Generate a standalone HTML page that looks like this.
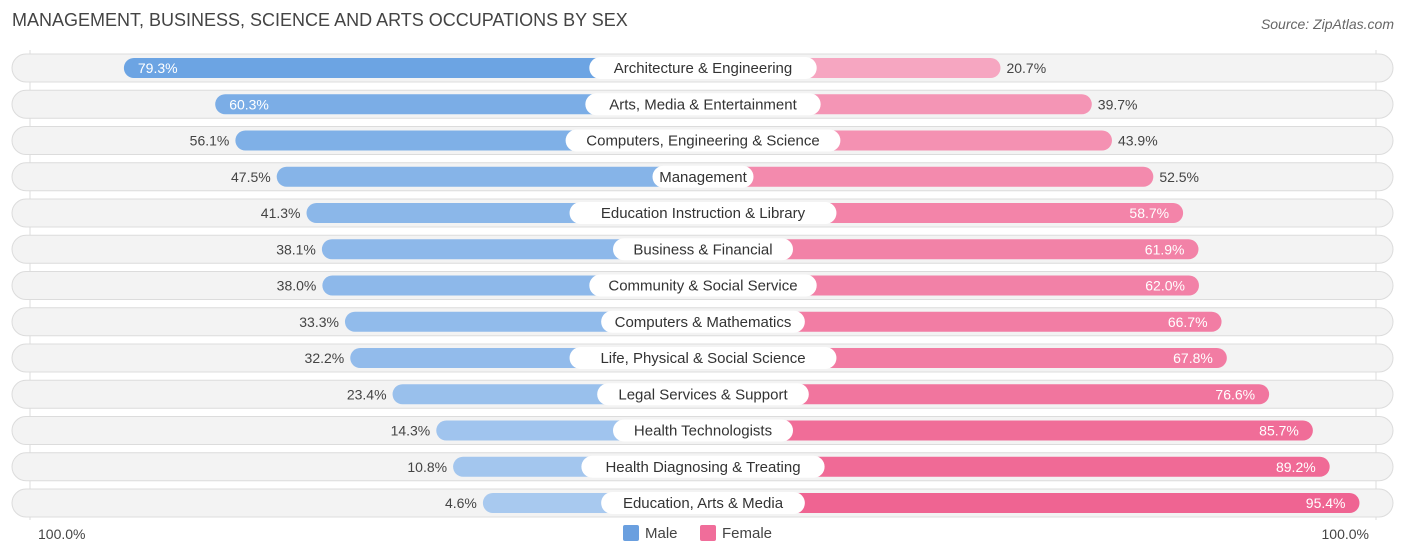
<!DOCTYPE html>
<html><head><meta charset="utf-8"><style>
body{margin:0;width:1406px;height:559px;background:#fff;font-family:"Liberation Sans",sans-serif;position:relative;overflow:hidden}
.t{position:absolute;white-space:nowrap}
</style></head><body>
<div class="t" style="left:12px;top:10px;font-size:18px;color:#444">MANAGEMENT, BUSINESS, SCIENCE AND ARTS OCCUPATIONS BY SEX</div>
<div class="t" style="right:12px;top:16px;font-size:14px;color:#666;font-style:italic">Source: ZipAtlas.com</div>
<svg id="c" width="1406" height="559" style="position:absolute;left:0;top:0"></svg>
<div class="t" style="left:38px;top:526px;font-size:14px;color:#444">100.0%</div>
<div class="t" style="right:37px;top:526px;font-size:14px;color:#444">100.0%</div>
<div class="t" style="left:623px;top:525px;font-size:15px;color:#444"><span style="display:inline-block;width:16px;height:16px;background:#6a9fdf;vertical-align:-3px;margin-right:6px;border-radius:2px"></span>Male</div>
<div class="t" style="left:700px;top:525px;font-size:15px;color:#444"><span style="display:inline-block;width:16px;height:16px;background:#f06d9a;vertical-align:-3px;margin-right:6px;border-radius:2px"></span>Female</div>
<script>
const categories=["Architecture & Engineering","Arts, Media & Entertainment","Computers, Engineering & Science","Management","Education Instruction & Library","Business & Financial","Community & Social Service","Computers & Mathematics","Life, Physical & Social Science","Legal Services & Support","Health Technologists","Health Diagnosing & Treating","Education, Arts & Media"];
const male=[79.3,60.3,56.1,47.5,41.3,38.1,38.0,33.3,32.2,23.4,14.3,10.8,4.6];
const female=[20.7,39.7,43.9,52.5,58.7,61.9,62.0,66.7,67.8,76.6,85.7,89.2,95.4];
const svg=document.getElementById('c');const NS='http://www.w3.org/2000/svg';
const cx=703,base=198,k=4.806,y0=68,dy=36.25;
function mk(t,a,name){const e=document.createElementNS(NS,t);for(const p in a)e.setAttribute(p,a[p]);svg.appendChild(e);return e;}
function mix(c1,c2,t){return 'rgb('+c1.map((v,i)=>Math.round(v+(c2[i]-v)*t)).join(',')+')';}
mk('line',{x1:30,y1:50,x2:30,y2:520,stroke:'#ddd'},'grid-left');
mk('line',{x1:1376,y1:50,x2:1376,y2:520,stroke:'#ddd'},'grid-right');
categories.forEach((c,i)=>{
const y=y0+i*dy;
mk('rect',{x:12,y:y-14,width:1381,height:28,rx:14,fill:'#f3f3f3',stroke:'#dcdcdc'},'row-bg');
const mw=base+k*male[i],fw=base+k*female[i];
mk('rect',{x:cx-mw,y:y-10,width:mw,height:20,rx:10,fill:mix([172,203,240],[91,154,224],male[i]/100)},'bar-male');
mk('rect',{x:cx,y:y-10,width:fw,height:20,rx:10,fill:mix([248,184,206],[239,96,143],female[i]/100)},'bar-female');
const tw=c.length*7.9+22;
mk('rect',{x:cx-tw/2,y:y-11,width:tw,height:22,rx:11,fill:'#fff'},'category-pill');
const t=mk('text',{x:cx,y:y+5,'text-anchor':'middle','font-size':15,fill:'#333','font-family':'Liberation Sans'},'category-label');t.textContent=c;
const mi=male[i]>58;
const ml=mk('text',{x:mi?cx-mw+14:cx-mw-6,y:y+5,'text-anchor':mi?'start':'end','font-size':14,fill:mi?'#fff':'#444','font-family':'Liberation Sans'},'value-male');ml.textContent=male[i].toFixed(1)+'%';
const fi=female[i]>58;
const fl=mk('text',{x:fi?cx+fw-14:cx+fw+6,y:y+5,'text-anchor':fi?'end':'start','font-size':14,fill:fi?'#fff':'#444','font-family':'Liberation Sans'},'value-female');fl.textContent=female[i].toFixed(1)+'%';
});
</script>
</body></html>
